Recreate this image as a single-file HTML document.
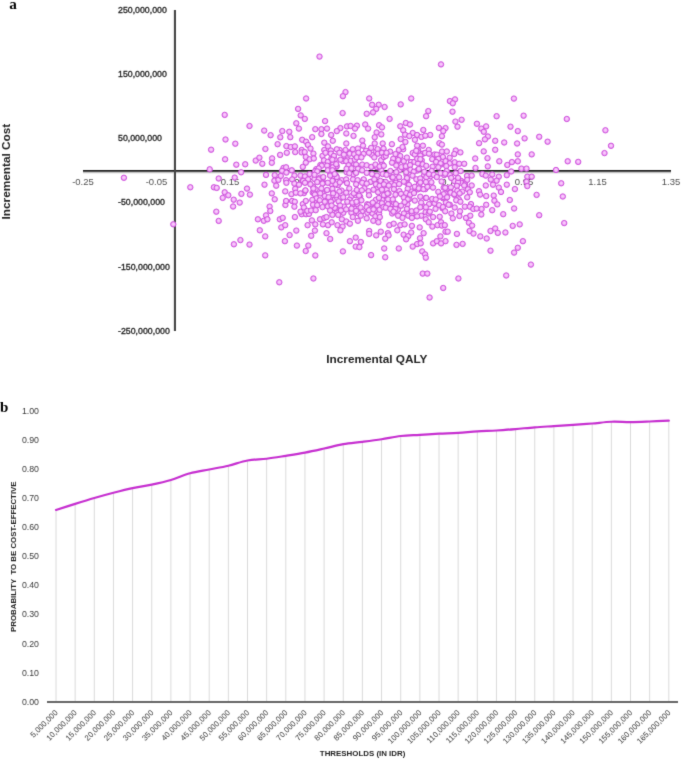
<!DOCTYPE html><html><head><meta charset="utf-8"><style>html,body{margin:0;padding:0;background:#fff;width:685px;height:759px;overflow:hidden}svg{display:block}</style></head><body>
<svg width="685" height="759" viewBox="0 0 685 759">
<defs><filter id="soft" filterUnits="userSpaceOnUse" x="0" y="0" width="685" height="759" color-interpolation-filters="sRGB"><feConvolveMatrix order="3" kernelMatrix="1 7 1 7 49 7 1 7 1" edgeMode="duplicate"/></filter></defs>
<g filter="url(#soft)">
<rect width="685" height="759" fill="#fff"/>
<text x="9.2" y="8.8" font-family="'Liberation Serif', 'Times New Roman', serif" font-weight="bold" font-size="15.2" fill="#000">a</text>
<text x="0" y="412" font-family="'Liberation Serif', 'Times New Roman', serif" font-weight="bold" font-size="15" fill="#000">b</text>
<text transform="translate(83.0,184.6) scale(1,1.04)" text-anchor="middle" font-family="'Liberation Sans', Arial, sans-serif" font-size="9.5" fill="#505050">-0.25</text>
<text transform="translate(156.5,184.6) scale(1,1.04)" text-anchor="middle" font-family="'Liberation Sans', Arial, sans-serif" font-size="9.5" fill="#505050">-0.05</text>
<text transform="translate(230.0,184.6) scale(1,1.04)" text-anchor="middle" font-family="'Liberation Sans', Arial, sans-serif" font-size="9.5" fill="#505050">0.15</text>
<text transform="translate(303.5,184.6) scale(1,1.04)" text-anchor="middle" font-family="'Liberation Sans', Arial, sans-serif" font-size="9.5" fill="#505050">0.35</text>
<text transform="translate(377.0,184.6) scale(1,1.04)" text-anchor="middle" font-family="'Liberation Sans', Arial, sans-serif" font-size="9.5" fill="#505050">0.55</text>
<text transform="translate(450.5,184.6) scale(1,1.04)" text-anchor="middle" font-family="'Liberation Sans', Arial, sans-serif" font-size="9.5" fill="#505050">0.75</text>
<text transform="translate(524.0,184.6) scale(1,1.04)" text-anchor="middle" font-family="'Liberation Sans', Arial, sans-serif" font-size="9.5" fill="#505050">0.95</text>
<text transform="translate(597.5,184.6) scale(1,1.04)" text-anchor="middle" font-family="'Liberation Sans', Arial, sans-serif" font-size="9.5" fill="#505050">1.15</text>
<text transform="translate(671.0,184.6) scale(1,1.04)" text-anchor="middle" font-family="'Liberation Sans', Arial, sans-serif" font-size="9.5" fill="#505050">1.35</text>
<text transform="translate(118,12.73) scale(1,1.12)" font-family="'Liberation Sans', Arial, sans-serif" font-size="8.8" fill="#222" stroke="#222" stroke-width="0.3">250,000,000</text>
<text transform="translate(118,76.98) scale(1,1.12)" font-family="'Liberation Sans', Arial, sans-serif" font-size="8.8" fill="#222" stroke="#222" stroke-width="0.3">150,000,000</text>
<text transform="translate(118,141.23) scale(1,1.12)" font-family="'Liberation Sans', Arial, sans-serif" font-size="8.8" fill="#222" stroke="#222" stroke-width="0.3">50,000,000</text>
<text transform="translate(118,205.48) scale(1,1.12)" font-family="'Liberation Sans', Arial, sans-serif" font-size="8.8" fill="#222" stroke="#222" stroke-width="0.3">-50,000,000</text>
<text transform="translate(118,269.73) scale(1,1.12)" font-family="'Liberation Sans', Arial, sans-serif" font-size="8.8" fill="#222" stroke="#222" stroke-width="0.3">-150,000,000</text>
<text transform="translate(118,333.98) scale(1,1.12)" font-family="'Liberation Sans', Arial, sans-serif" font-size="8.8" fill="#222" stroke="#222" stroke-width="0.3">-250,000,000</text>
<line x1="173.3" y1="10" x2="173.3" y2="331" stroke="#e4e4e4" stroke-width="1"/>
<line x1="83" y1="172.6" x2="671" y2="172.6" stroke="#c4c4c4" stroke-width="1.4"/>
<line x1="83" y1="170.9" x2="671" y2="170.9" stroke="#1c1c1c" stroke-width="1.8"/>
<line x1="175" y1="10" x2="175" y2="331" stroke="#454545" stroke-width="2"/>
<defs><radialGradient id="dg" cx="0.5" cy="0.45" r="0.5"><stop offset="0" stop-color="#fcd4fe"/><stop offset="0.5" stop-color="#f5bcf9"/><stop offset="1" stop-color="#e592ee"/></radialGradient></defs>
<g fill="url(#dg)" stroke="#cf52dd" stroke-width="1">
<circle cx="377.2" cy="187.6" r="2.7"/>
<circle cx="457.4" cy="180.8" r="2.7"/>
<circle cx="386.6" cy="189.6" r="2.7"/>
<circle cx="331.7" cy="184.2" r="2.7"/>
<circle cx="407.4" cy="204.4" r="2.7"/>
<circle cx="316.3" cy="169.1" r="2.7"/>
<circle cx="418.2" cy="150.3" r="2.7"/>
<circle cx="411.5" cy="191.6" r="2.7"/>
<circle cx="390.1" cy="151.6" r="2.7"/>
<circle cx="332.6" cy="164.7" r="2.7"/>
<circle cx="305.4" cy="180.7" r="2.7"/>
<circle cx="375.2" cy="208.0" r="2.7"/>
<circle cx="388.6" cy="193.4" r="2.7"/>
<circle cx="385.3" cy="195.0" r="2.7"/>
<circle cx="378.0" cy="167.3" r="2.7"/>
<circle cx="443.1" cy="198.3" r="2.7"/>
<circle cx="353.9" cy="163.8" r="2.7"/>
<circle cx="349.4" cy="152.4" r="2.7"/>
<circle cx="430.6" cy="176.1" r="2.7"/>
<circle cx="444.2" cy="175.1" r="2.7"/>
<circle cx="455.0" cy="181.1" r="2.7"/>
<circle cx="467.0" cy="175.9" r="2.7"/>
<circle cx="312.7" cy="192.6" r="2.7"/>
<circle cx="432.6" cy="166.7" r="2.7"/>
<circle cx="315.1" cy="171.2" r="2.7"/>
<circle cx="320.4" cy="165.0" r="2.7"/>
<circle cx="435.8" cy="160.1" r="2.7"/>
<circle cx="395.4" cy="179.5" r="2.7"/>
<circle cx="332.7" cy="200.0" r="2.7"/>
<circle cx="322.6" cy="193.6" r="2.7"/>
<circle cx="320.1" cy="177.6" r="2.7"/>
<circle cx="336.5" cy="166.7" r="2.7"/>
<circle cx="352.0" cy="211.0" r="2.7"/>
<circle cx="336.1" cy="175.7" r="2.7"/>
<circle cx="445.5" cy="193.5" r="2.7"/>
<circle cx="336.6" cy="165.9" r="2.7"/>
<circle cx="431.7" cy="171.0" r="2.7"/>
<circle cx="350.7" cy="152.6" r="2.7"/>
<circle cx="315.6" cy="189.3" r="2.7"/>
<circle cx="341.6" cy="190.6" r="2.7"/>
<circle cx="363.5" cy="179.9" r="2.7"/>
<circle cx="463.4" cy="182.1" r="2.7"/>
<circle cx="398.0" cy="209.7" r="2.7"/>
<circle cx="331.4" cy="158.4" r="2.7"/>
<circle cx="342.7" cy="161.0" r="2.7"/>
<circle cx="450.3" cy="190.8" r="2.7"/>
<circle cx="371.9" cy="154.8" r="2.7"/>
<circle cx="340.8" cy="198.0" r="2.7"/>
<circle cx="344.0" cy="206.6" r="2.7"/>
<circle cx="401.7" cy="168.4" r="2.7"/>
<circle cx="330.1" cy="199.2" r="2.7"/>
<circle cx="395.4" cy="208.7" r="2.7"/>
<circle cx="404.7" cy="167.5" r="2.7"/>
<circle cx="376.1" cy="151.7" r="2.7"/>
<circle cx="330.3" cy="173.9" r="2.7"/>
<circle cx="397.6" cy="156.8" r="2.7"/>
<circle cx="361.9" cy="211.4" r="2.7"/>
<circle cx="417.8" cy="189.4" r="2.7"/>
<circle cx="303.9" cy="193.1" r="2.7"/>
<circle cx="382.3" cy="199.9" r="2.7"/>
<circle cx="313.1" cy="186.6" r="2.7"/>
<circle cx="425.6" cy="212.1" r="2.7"/>
<circle cx="425.6" cy="198.0" r="2.7"/>
<circle cx="360.1" cy="196.6" r="2.7"/>
<circle cx="371.2" cy="204.2" r="2.7"/>
<circle cx="447.1" cy="188.5" r="2.7"/>
<circle cx="406.5" cy="174.8" r="2.7"/>
<circle cx="399.4" cy="191.1" r="2.7"/>
<circle cx="313.9" cy="193.3" r="2.7"/>
<circle cx="424.1" cy="175.3" r="2.7"/>
<circle cx="425.3" cy="189.1" r="2.7"/>
<circle cx="375.2" cy="207.7" r="2.7"/>
<circle cx="314.5" cy="201.3" r="2.7"/>
<circle cx="305.4" cy="190.6" r="2.7"/>
<circle cx="382.1" cy="163.9" r="2.7"/>
<circle cx="419.0" cy="183.1" r="2.7"/>
<circle cx="404.8" cy="213.6" r="2.7"/>
<circle cx="351.5" cy="196.1" r="2.7"/>
<circle cx="334.7" cy="159.5" r="2.7"/>
<circle cx="454.3" cy="194.8" r="2.7"/>
<circle cx="375.4" cy="211.5" r="2.7"/>
<circle cx="355.9" cy="195.2" r="2.7"/>
<circle cx="334.0" cy="178.3" r="2.7"/>
<circle cx="449.9" cy="175.0" r="2.7"/>
<circle cx="399.4" cy="170.1" r="2.7"/>
<circle cx="323.4" cy="183.0" r="2.7"/>
<circle cx="442.6" cy="208.4" r="2.7"/>
<circle cx="421.2" cy="215.7" r="2.7"/>
<circle cx="347.4" cy="159.5" r="2.7"/>
<circle cx="376.9" cy="167.1" r="2.7"/>
<circle cx="336.7" cy="177.1" r="2.7"/>
<circle cx="406.7" cy="182.9" r="2.7"/>
<circle cx="353.9" cy="207.7" r="2.7"/>
<circle cx="467.2" cy="179.9" r="2.7"/>
<circle cx="420.8" cy="188.4" r="2.7"/>
<circle cx="352.8" cy="204.3" r="2.7"/>
<circle cx="377.6" cy="149.1" r="2.7"/>
<circle cx="441.3" cy="164.4" r="2.7"/>
<circle cx="407.3" cy="179.4" r="2.7"/>
<circle cx="407.4" cy="194.5" r="2.7"/>
<circle cx="416.7" cy="161.7" r="2.7"/>
<circle cx="381.1" cy="160.2" r="2.7"/>
<circle cx="302.1" cy="181.3" r="2.7"/>
<circle cx="421.7" cy="160.2" r="2.7"/>
<circle cx="346.6" cy="172.2" r="2.7"/>
<circle cx="418.8" cy="184.8" r="2.7"/>
<circle cx="404.8" cy="201.7" r="2.7"/>
<circle cx="367.2" cy="204.3" r="2.7"/>
<circle cx="458.8" cy="199.3" r="2.7"/>
<circle cx="322.4" cy="180.0" r="2.7"/>
<circle cx="406.6" cy="212.8" r="2.7"/>
<circle cx="364.4" cy="188.3" r="2.7"/>
<circle cx="449.8" cy="204.7" r="2.7"/>
<circle cx="460.8" cy="180.7" r="2.7"/>
<circle cx="411.0" cy="162.1" r="2.7"/>
<circle cx="423.0" cy="206.2" r="2.7"/>
<circle cx="409.4" cy="199.0" r="2.7"/>
<circle cx="336.6" cy="212.1" r="2.7"/>
<circle cx="391.6" cy="204.2" r="2.7"/>
<circle cx="354.8" cy="212.8" r="2.7"/>
<circle cx="445.8" cy="172.4" r="2.7"/>
<circle cx="314.4" cy="179.0" r="2.7"/>
<circle cx="393.9" cy="202.6" r="2.7"/>
<circle cx="383.2" cy="149.3" r="2.7"/>
<circle cx="436.3" cy="159.7" r="2.7"/>
<circle cx="357.3" cy="204.0" r="2.7"/>
<circle cx="388.1" cy="199.4" r="2.7"/>
<circle cx="443.1" cy="196.9" r="2.7"/>
<circle cx="461.1" cy="182.8" r="2.7"/>
<circle cx="337.9" cy="185.2" r="2.7"/>
<circle cx="349.6" cy="199.8" r="2.7"/>
<circle cx="408.9" cy="184.9" r="2.7"/>
<circle cx="443.7" cy="187.6" r="2.7"/>
<circle cx="353.3" cy="174.7" r="2.7"/>
<circle cx="335.7" cy="208.6" r="2.7"/>
<circle cx="464.9" cy="185.0" r="2.7"/>
<circle cx="397.7" cy="161.8" r="2.7"/>
<circle cx="391.4" cy="183.5" r="2.7"/>
<circle cx="403.2" cy="149.3" r="2.7"/>
<circle cx="465.1" cy="184.5" r="2.7"/>
<circle cx="368.4" cy="205.0" r="2.7"/>
<circle cx="396.0" cy="182.7" r="2.7"/>
<circle cx="417.8" cy="152.0" r="2.7"/>
<circle cx="391.9" cy="177.1" r="2.7"/>
<circle cx="346.1" cy="181.4" r="2.7"/>
<circle cx="321.9" cy="178.5" r="2.7"/>
<circle cx="381.3" cy="170.1" r="2.7"/>
<circle cx="332.8" cy="191.8" r="2.7"/>
<circle cx="333.3" cy="163.7" r="2.7"/>
<circle cx="417.1" cy="170.5" r="2.7"/>
<circle cx="319.5" cy="56.6" r="2.7"/>
<circle cx="441.0" cy="64.4" r="2.7"/>
<circle cx="345.5" cy="92.1" r="2.7"/>
<circle cx="342.9" cy="96.2" r="2.7"/>
<circle cx="513.9" cy="98.6" r="2.7"/>
<circle cx="224.7" cy="114.9" r="2.7"/>
<circle cx="225.5" cy="139.5" r="2.7"/>
<circle cx="235.3" cy="143.7" r="2.7"/>
<circle cx="211.1" cy="149.7" r="2.7"/>
<circle cx="225.1" cy="159.3" r="2.7"/>
<circle cx="209.7" cy="169.3" r="2.7"/>
<circle cx="236.3" cy="164.7" r="2.7"/>
<circle cx="123.9" cy="177.8" r="2.7"/>
<circle cx="218.7" cy="178.5" r="2.7"/>
<circle cx="234.7" cy="177.6" r="2.7"/>
<circle cx="190.3" cy="187.3" r="2.7"/>
<circle cx="213.9" cy="187.3" r="2.7"/>
<circle cx="216.7" cy="187.9" r="2.7"/>
<circle cx="224.7" cy="192.3" r="2.7"/>
<circle cx="228.3" cy="195.3" r="2.7"/>
<circle cx="222.7" cy="197.9" r="2.7"/>
<circle cx="233.7" cy="199.7" r="2.7"/>
<circle cx="233.1" cy="206.5" r="2.7"/>
<circle cx="216.3" cy="211.7" r="2.7"/>
<circle cx="218.7" cy="220.9" r="2.7"/>
<circle cx="173.3" cy="224.3" r="2.7"/>
<circle cx="233.9" cy="244.3" r="2.7"/>
<circle cx="306.1" cy="98.5" r="2.7"/>
<circle cx="298.1" cy="108.9" r="2.7"/>
<circle cx="300.7" cy="115.4" r="2.7"/>
<circle cx="304.8" cy="118.9" r="2.7"/>
<circle cx="296.3" cy="123.3" r="2.7"/>
<circle cx="298.9" cy="128.6" r="2.7"/>
<circle cx="325.1" cy="121.1" r="2.7"/>
<circle cx="249.5" cy="126.0" r="2.7"/>
<circle cx="264.2" cy="130.6" r="2.7"/>
<circle cx="270.6" cy="135.2" r="2.7"/>
<circle cx="282.3" cy="131.1" r="2.7"/>
<circle cx="289.3" cy="131.8" r="2.7"/>
<circle cx="290.3" cy="137.2" r="2.7"/>
<circle cx="280.3" cy="137.3" r="2.7"/>
<circle cx="277.6" cy="144.2" r="2.7"/>
<circle cx="265.4" cy="149.0" r="2.7"/>
<circle cx="315.3" cy="129.2" r="2.7"/>
<circle cx="321.4" cy="129.2" r="2.7"/>
<circle cx="327.0" cy="128.6" r="2.7"/>
<circle cx="321.4" cy="134.0" r="2.7"/>
<circle cx="331.2" cy="135.0" r="2.7"/>
<circle cx="312.2" cy="137.2" r="2.7"/>
<circle cx="302.2" cy="139.8" r="2.7"/>
<circle cx="306.1" cy="141.7" r="2.7"/>
<circle cx="307.9" cy="144.9" r="2.7"/>
<circle cx="324.3" cy="142.7" r="2.7"/>
<circle cx="332.8" cy="140.8" r="2.7"/>
<circle cx="286.4" cy="146.1" r="2.7"/>
<circle cx="290.8" cy="147.1" r="2.7"/>
<circle cx="294.9" cy="146.4" r="2.7"/>
<circle cx="310.5" cy="148.6" r="2.7"/>
<circle cx="301.7" cy="150.0" r="2.7"/>
<circle cx="324.3" cy="150.0" r="2.7"/>
<circle cx="328.0" cy="146.4" r="2.7"/>
<circle cx="330.9" cy="150.5" r="2.7"/>
<circle cx="280.1" cy="154.9" r="2.7"/>
<circle cx="369.2" cy="98.5" r="2.7"/>
<circle cx="411.2" cy="98.5" r="2.7"/>
<circle cx="372.1" cy="104.8" r="2.7"/>
<circle cx="378.7" cy="104.8" r="2.7"/>
<circle cx="384.6" cy="107.0" r="2.7"/>
<circle cx="376.2" cy="108.9" r="2.7"/>
<circle cx="400.7" cy="104.4" r="2.7"/>
<circle cx="342.6" cy="113.1" r="2.7"/>
<circle cx="366.7" cy="113.8" r="2.7"/>
<circle cx="373.0" cy="112.4" r="2.7"/>
<circle cx="389.6" cy="118.9" r="2.7"/>
<circle cx="428.3" cy="111.1" r="2.7"/>
<circle cx="426.1" cy="116.2" r="2.7"/>
<circle cx="340.4" cy="128.1" r="2.7"/>
<circle cx="336.8" cy="131.1" r="2.7"/>
<circle cx="347.0" cy="126.4" r="2.7"/>
<circle cx="350.6" cy="126.0" r="2.7"/>
<circle cx="356.9" cy="125.7" r="2.7"/>
<circle cx="355.0" cy="128.6" r="2.7"/>
<circle cx="346.3" cy="133.5" r="2.7"/>
<circle cx="353.5" cy="135.9" r="2.7"/>
<circle cx="365.2" cy="124.5" r="2.7"/>
<circle cx="368.1" cy="128.6" r="2.7"/>
<circle cx="379.1" cy="125.2" r="2.7"/>
<circle cx="382.0" cy="127.4" r="2.7"/>
<circle cx="376.6" cy="132.5" r="2.7"/>
<circle cx="381.3" cy="134.4" r="2.7"/>
<circle cx="374.7" cy="137.3" r="2.7"/>
<circle cx="400.3" cy="126.3" r="2.7"/>
<circle cx="405.8" cy="123.0" r="2.7"/>
<circle cx="410.0" cy="124.5" r="2.7"/>
<circle cx="403.2" cy="130.3" r="2.7"/>
<circle cx="405.1" cy="134.7" r="2.7"/>
<circle cx="412.7" cy="133.0" r="2.7"/>
<circle cx="423.3" cy="130.0" r="2.7"/>
<circle cx="430.2" cy="135.0" r="2.7"/>
<circle cx="417.1" cy="135.0" r="2.7"/>
<circle cx="421.4" cy="136.9" r="2.7"/>
<circle cx="400.7" cy="139.1" r="2.7"/>
<circle cx="405.4" cy="142.0" r="2.7"/>
<circle cx="414.9" cy="139.8" r="2.7"/>
<circle cx="362.3" cy="140.6" r="2.7"/>
<circle cx="346.3" cy="143.5" r="2.7"/>
<circle cx="374.7" cy="143.5" r="2.7"/>
<circle cx="382.7" cy="143.5" r="2.7"/>
<circle cx="391.9" cy="144.2" r="2.7"/>
<circle cx="339.7" cy="150.0" r="2.7"/>
<circle cx="345.5" cy="150.0" r="2.7"/>
<circle cx="352.8" cy="149.3" r="2.7"/>
<circle cx="357.9" cy="148.6" r="2.7"/>
<circle cx="363.0" cy="145.7" r="2.7"/>
<circle cx="366.0" cy="150.8" r="2.7"/>
<circle cx="371.1" cy="147.9" r="2.7"/>
<circle cx="383.5" cy="148.6" r="2.7"/>
<circle cx="398.8" cy="150.0" r="2.7"/>
<circle cx="402.5" cy="147.1" r="2.7"/>
<circle cx="417.1" cy="145.7" r="2.7"/>
<circle cx="422.9" cy="145.7" r="2.7"/>
<circle cx="428.7" cy="150.0" r="2.7"/>
<circle cx="422.9" cy="153.7" r="2.7"/>
<circle cx="412.7" cy="153.0" r="2.7"/>
<circle cx="377.9" cy="153.7" r="2.7"/>
<circle cx="395.5" cy="154.1" r="2.7"/>
<circle cx="363.6" cy="153.9" r="2.7"/>
<circle cx="349.6" cy="153.7" r="2.7"/>
<circle cx="336.8" cy="149.3" r="2.7"/>
<circle cx="449.9" cy="101.1" r="2.7"/>
<circle cx="455.0" cy="99.4" r="2.7"/>
<circle cx="452.8" cy="103.3" r="2.7"/>
<circle cx="452.5" cy="111.7" r="2.7"/>
<circle cx="496.6" cy="116.2" r="2.7"/>
<circle cx="523.6" cy="115.7" r="2.7"/>
<circle cx="455.4" cy="121.6" r="2.7"/>
<circle cx="461.6" cy="119.8" r="2.7"/>
<circle cx="457.5" cy="126.7" r="2.7"/>
<circle cx="438.9" cy="127.9" r="2.7"/>
<circle cx="445.5" cy="128.1" r="2.7"/>
<circle cx="443.3" cy="131.1" r="2.7"/>
<circle cx="441.9" cy="136.2" r="2.7"/>
<circle cx="476.9" cy="123.8" r="2.7"/>
<circle cx="481.3" cy="128.6" r="2.7"/>
<circle cx="486.1" cy="126.4" r="2.7"/>
<circle cx="483.8" cy="131.8" r="2.7"/>
<circle cx="487.9" cy="136.5" r="2.7"/>
<circle cx="484.9" cy="139.4" r="2.7"/>
<circle cx="479.1" cy="143.2" r="2.7"/>
<circle cx="495.2" cy="140.8" r="2.7"/>
<circle cx="504.2" cy="142.5" r="2.7"/>
<circle cx="510.5" cy="126.7" r="2.7"/>
<circle cx="517.8" cy="131.1" r="2.7"/>
<circle cx="524.6" cy="138.4" r="2.7"/>
<circle cx="517.1" cy="143.5" r="2.7"/>
<circle cx="439.4" cy="143.2" r="2.7"/>
<circle cx="441.9" cy="144.6" r="2.7"/>
<circle cx="483.7" cy="151.4" r="2.7"/>
<circle cx="495.2" cy="149.8" r="2.7"/>
<circle cx="442.0" cy="151.6" r="2.7"/>
<circle cx="446.8" cy="151.5" r="2.7"/>
<circle cx="455.7" cy="150.5" r="2.7"/>
<circle cx="517.8" cy="154.4" r="2.7"/>
<circle cx="531.7" cy="154.4" r="2.7"/>
<circle cx="566.8" cy="119.0" r="2.7"/>
<circle cx="605.4" cy="130.3" r="2.7"/>
<circle cx="539.2" cy="136.8" r="2.7"/>
<circle cx="547.6" cy="141.7" r="2.7"/>
<circle cx="611.0" cy="145.8" r="2.7"/>
<circle cx="604.5" cy="153.1" r="2.7"/>
<circle cx="567.7" cy="161.3" r="2.7"/>
<circle cx="578.2" cy="161.9" r="2.7"/>
<circle cx="245.2" cy="164.3" r="2.7"/>
<circle cx="241.1" cy="172.3" r="2.7"/>
<circle cx="255.7" cy="160.6" r="2.7"/>
<circle cx="259.4" cy="157.7" r="2.7"/>
<circle cx="262.3" cy="163.8" r="2.7"/>
<circle cx="272.1" cy="158.4" r="2.7"/>
<circle cx="271.8" cy="162.8" r="2.7"/>
<circle cx="266.0" cy="174.9" r="2.7"/>
<circle cx="264.5" cy="184.7" r="2.7"/>
<circle cx="247.0" cy="188.6" r="2.7"/>
<circle cx="241.4" cy="193.9" r="2.7"/>
<circle cx="249.9" cy="194.6" r="2.7"/>
<circle cx="239.7" cy="202.6" r="2.7"/>
<circle cx="274.7" cy="175.2" r="2.7"/>
<circle cx="274.4" cy="180.7" r="2.7"/>
<circle cx="278.4" cy="179.9" r="2.7"/>
<circle cx="276.2" cy="185.7" r="2.7"/>
<circle cx="283.5" cy="167.9" r="2.7"/>
<circle cx="282.0" cy="170.8" r="2.7"/>
<circle cx="280.8" cy="175.9" r="2.7"/>
<circle cx="271.8" cy="193.4" r="2.7"/>
<circle cx="274.7" cy="199.3" r="2.7"/>
<circle cx="269.6" cy="206.6" r="2.7"/>
<circle cx="270.3" cy="211.0" r="2.7"/>
<circle cx="285.2" cy="191.4" r="2.7"/>
<circle cx="285.4" cy="205.0" r="2.7"/>
<circle cx="487.5" cy="158.2" r="2.7"/>
<circle cx="499.3" cy="161.3" r="2.7"/>
<circle cx="487.8" cy="166.4" r="2.7"/>
<circle cx="507.3" cy="165.0" r="2.7"/>
<circle cx="511.9" cy="162.1" r="2.7"/>
<circle cx="517.8" cy="161.3" r="2.7"/>
<circle cx="521.4" cy="168.6" r="2.7"/>
<circle cx="526.5" cy="168.6" r="2.7"/>
<circle cx="511.2" cy="171.5" r="2.7"/>
<circle cx="506.8" cy="175.2" r="2.7"/>
<circle cx="492.2" cy="174.5" r="2.7"/>
<circle cx="498.8" cy="176.7" r="2.7"/>
<circle cx="490.8" cy="179.6" r="2.7"/>
<circle cx="496.6" cy="180.7" r="2.7"/>
<circle cx="527.3" cy="176.7" r="2.7"/>
<circle cx="531.7" cy="176.7" r="2.7"/>
<circle cx="526.5" cy="181.8" r="2.7"/>
<circle cx="527.3" cy="186.1" r="2.7"/>
<circle cx="506.8" cy="184.7" r="2.7"/>
<circle cx="514.9" cy="189.1" r="2.7"/>
<circle cx="493.0" cy="184.7" r="2.7"/>
<circle cx="498.8" cy="187.6" r="2.7"/>
<circle cx="501.0" cy="192.0" r="2.7"/>
<circle cx="493.7" cy="195.6" r="2.7"/>
<circle cx="494.4" cy="200.7" r="2.7"/>
<circle cx="497.3" cy="204.4" r="2.7"/>
<circle cx="509.8" cy="200.0" r="2.7"/>
<circle cx="514.1" cy="208.5" r="2.7"/>
<circle cx="536.6" cy="194.9" r="2.7"/>
<circle cx="492.2" cy="210.2" r="2.7"/>
<circle cx="556.0" cy="170.0" r="2.7"/>
<circle cx="561.2" cy="183.3" r="2.7"/>
<circle cx="562.8" cy="196.5" r="2.7"/>
<circle cx="539.2" cy="215.2" r="2.7"/>
<circle cx="564.2" cy="223.1" r="2.7"/>
<circle cx="266.0" cy="215.4" r="2.7"/>
<circle cx="257.9" cy="219.3" r="2.7"/>
<circle cx="263.8" cy="220.8" r="2.7"/>
<circle cx="267.4" cy="219.3" r="2.7"/>
<circle cx="279.8" cy="219.3" r="2.7"/>
<circle cx="282.7" cy="217.9" r="2.7"/>
<circle cx="281.3" cy="227.4" r="2.7"/>
<circle cx="285.2" cy="225.2" r="2.7"/>
<circle cx="294.9" cy="217.1" r="2.7"/>
<circle cx="259.8" cy="230.3" r="2.7"/>
<circle cx="265.2" cy="236.4" r="2.7"/>
<circle cx="240.4" cy="240.1" r="2.7"/>
<circle cx="249.5" cy="244.6" r="2.7"/>
<circle cx="265.2" cy="255.4" r="2.7"/>
<circle cx="289.6" cy="235.1" r="2.7"/>
<circle cx="296.3" cy="230.6" r="2.7"/>
<circle cx="284.9" cy="241.2" r="2.7"/>
<circle cx="296.9" cy="245.6" r="2.7"/>
<circle cx="301.7" cy="214.2" r="2.7"/>
<circle cx="306.1" cy="214.2" r="2.7"/>
<circle cx="309.0" cy="213.9" r="2.7"/>
<circle cx="307.6" cy="225.2" r="2.7"/>
<circle cx="311.9" cy="220.4" r="2.7"/>
<circle cx="315.3" cy="224.4" r="2.7"/>
<circle cx="314.9" cy="230.6" r="2.7"/>
<circle cx="311.2" cy="235.8" r="2.7"/>
<circle cx="320.0" cy="219.3" r="2.7"/>
<circle cx="324.3" cy="217.9" r="2.7"/>
<circle cx="326.5" cy="217.1" r="2.7"/>
<circle cx="322.9" cy="224.4" r="2.7"/>
<circle cx="328.0" cy="225.2" r="2.7"/>
<circle cx="331.7" cy="222.3" r="2.7"/>
<circle cx="332.4" cy="214.9" r="2.7"/>
<circle cx="326.5" cy="233.2" r="2.7"/>
<circle cx="330.2" cy="239.0" r="2.7"/>
<circle cx="308.3" cy="245.6" r="2.7"/>
<circle cx="305.7" cy="251.0" r="2.7"/>
<circle cx="315.3" cy="255.5" r="2.7"/>
<circle cx="338.2" cy="214.9" r="2.7"/>
<circle cx="343.3" cy="212.8" r="2.7"/>
<circle cx="351.4" cy="212.8" r="2.7"/>
<circle cx="352.8" cy="217.1" r="2.7"/>
<circle cx="358.7" cy="213.5" r="2.7"/>
<circle cx="360.8" cy="215.7" r="2.7"/>
<circle cx="367.4" cy="212.8" r="2.7"/>
<circle cx="366.7" cy="218.3" r="2.7"/>
<circle cx="372.5" cy="213.5" r="2.7"/>
<circle cx="375.4" cy="216.4" r="2.7"/>
<circle cx="379.1" cy="213.5" r="2.7"/>
<circle cx="379.8" cy="217.1" r="2.7"/>
<circle cx="373.3" cy="220.8" r="2.7"/>
<circle cx="378.4" cy="222.3" r="2.7"/>
<circle cx="357.9" cy="220.8" r="2.7"/>
<circle cx="341.9" cy="219.3" r="2.7"/>
<circle cx="346.3" cy="221.5" r="2.7"/>
<circle cx="349.9" cy="223.7" r="2.7"/>
<circle cx="337.5" cy="225.2" r="2.7"/>
<circle cx="342.6" cy="226.6" r="2.7"/>
<circle cx="340.4" cy="230.3" r="2.7"/>
<circle cx="392.2" cy="213.5" r="2.7"/>
<circle cx="398.1" cy="215.7" r="2.7"/>
<circle cx="403.9" cy="213.5" r="2.7"/>
<circle cx="408.3" cy="215.7" r="2.7"/>
<circle cx="411.9" cy="213.5" r="2.7"/>
<circle cx="417.1" cy="216.4" r="2.7"/>
<circle cx="402.5" cy="217.9" r="2.7"/>
<circle cx="411.9" cy="217.9" r="2.7"/>
<circle cx="428.7" cy="213.5" r="2.7"/>
<circle cx="433.1" cy="217.1" r="2.7"/>
<circle cx="425.8" cy="219.3" r="2.7"/>
<circle cx="428.7" cy="222.3" r="2.7"/>
<circle cx="432.4" cy="226.6" r="2.7"/>
<circle cx="389.3" cy="225.2" r="2.7"/>
<circle cx="393.7" cy="223.7" r="2.7"/>
<circle cx="400.3" cy="225.2" r="2.7"/>
<circle cx="404.6" cy="224.4" r="2.7"/>
<circle cx="411.9" cy="225.9" r="2.7"/>
<circle cx="419.7" cy="227.4" r="2.7"/>
<circle cx="397.3" cy="230.3" r="2.7"/>
<circle cx="369.2" cy="231.0" r="2.7"/>
<circle cx="369.2" cy="233.9" r="2.7"/>
<circle cx="376.2" cy="235.4" r="2.7"/>
<circle cx="380.8" cy="231.7" r="2.7"/>
<circle cx="387.9" cy="233.2" r="2.7"/>
<circle cx="388.6" cy="235.4" r="2.7"/>
<circle cx="385.2" cy="238.7" r="2.7"/>
<circle cx="403.6" cy="234.7" r="2.7"/>
<circle cx="408.3" cy="236.1" r="2.7"/>
<circle cx="411.2" cy="232.5" r="2.7"/>
<circle cx="406.1" cy="239.3" r="2.7"/>
<circle cx="423.6" cy="233.2" r="2.7"/>
<circle cx="420.0" cy="238.3" r="2.7"/>
<circle cx="417.1" cy="244.1" r="2.7"/>
<circle cx="420.7" cy="243.4" r="2.7"/>
<circle cx="412.7" cy="246.6" r="2.7"/>
<circle cx="433.1" cy="243.4" r="2.7"/>
<circle cx="355.7" cy="237.6" r="2.7"/>
<circle cx="349.9" cy="241.2" r="2.7"/>
<circle cx="360.8" cy="242.0" r="2.7"/>
<circle cx="355.7" cy="246.6" r="2.7"/>
<circle cx="359.4" cy="247.1" r="2.7"/>
<circle cx="342.9" cy="251.4" r="2.7"/>
<circle cx="371.1" cy="255.1" r="2.7"/>
<circle cx="384.2" cy="248.5" r="2.7"/>
<circle cx="398.8" cy="248.5" r="2.7"/>
<circle cx="385.2" cy="257.3" r="2.7"/>
<circle cx="422.2" cy="251.4" r="2.7"/>
<circle cx="425.1" cy="254.4" r="2.7"/>
<circle cx="425.8" cy="257.7" r="2.7"/>
<circle cx="422.7" cy="273.6" r="2.7"/>
<circle cx="427.3" cy="273.6" r="2.7"/>
<circle cx="439.7" cy="216.8" r="2.7"/>
<circle cx="451.4" cy="213.5" r="2.7"/>
<circle cx="452.8" cy="218.3" r="2.7"/>
<circle cx="459.4" cy="216.0" r="2.7"/>
<circle cx="466.0" cy="217.9" r="2.7"/>
<circle cx="470.3" cy="215.7" r="2.7"/>
<circle cx="468.9" cy="222.7" r="2.7"/>
<circle cx="472.1" cy="225.6" r="2.7"/>
<circle cx="437.5" cy="225.2" r="2.7"/>
<circle cx="441.1" cy="222.3" r="2.7"/>
<circle cx="441.9" cy="225.6" r="2.7"/>
<circle cx="444.8" cy="225.2" r="2.7"/>
<circle cx="445.5" cy="231.7" r="2.7"/>
<circle cx="447.7" cy="231.7" r="2.7"/>
<circle cx="456.9" cy="233.9" r="2.7"/>
<circle cx="469.6" cy="231.0" r="2.7"/>
<circle cx="473.5" cy="233.6" r="2.7"/>
<circle cx="440.4" cy="236.4" r="2.7"/>
<circle cx="436.8" cy="241.2" r="2.7"/>
<circle cx="441.1" cy="243.4" r="2.7"/>
<circle cx="445.5" cy="241.2" r="2.7"/>
<circle cx="456.5" cy="244.9" r="2.7"/>
<circle cx="462.6" cy="243.9" r="2.7"/>
<circle cx="481.3" cy="214.5" r="2.7"/>
<circle cx="503.2" cy="214.2" r="2.7"/>
<circle cx="480.3" cy="236.4" r="2.7"/>
<circle cx="486.7" cy="238.5" r="2.7"/>
<circle cx="490.5" cy="231.0" r="2.7"/>
<circle cx="495.2" cy="228.5" r="2.7"/>
<circle cx="497.8" cy="232.9" r="2.7"/>
<circle cx="505.4" cy="232.5" r="2.7"/>
<circle cx="512.7" cy="225.9" r="2.7"/>
<circle cx="519.7" cy="224.4" r="2.7"/>
<circle cx="522.9" cy="241.2" r="2.7"/>
<circle cx="517.8" cy="247.8" r="2.7"/>
<circle cx="514.1" cy="252.6" r="2.7"/>
<circle cx="490.5" cy="250.7" r="2.7"/>
<circle cx="530.9" cy="264.6" r="2.7"/>
<circle cx="279.3" cy="282.3" r="2.7"/>
<circle cx="313.4" cy="278.5" r="2.7"/>
<circle cx="443.2" cy="288.0" r="2.7"/>
<circle cx="429.6" cy="297.5" r="2.7"/>
<circle cx="458.4" cy="278.5" r="2.7"/>
<circle cx="506.2" cy="275.5" r="2.7"/>
<circle cx="339.4" cy="152.8" r="2.7"/>
<circle cx="343.9" cy="154.7" r="2.7"/>
<circle cx="354.2" cy="154.3" r="2.7"/>
<circle cx="358.4" cy="152.8" r="2.7"/>
<circle cx="369.0" cy="152.8" r="2.7"/>
<circle cx="374.3" cy="157.4" r="2.7"/>
<circle cx="381.9" cy="152.8" r="2.7"/>
<circle cx="383.8" cy="157.0" r="2.7"/>
<circle cx="340.5" cy="159.7" r="2.7"/>
<circle cx="346.2" cy="161.2" r="2.7"/>
<circle cx="350.8" cy="160.8" r="2.7"/>
<circle cx="354.9" cy="159.7" r="2.7"/>
<circle cx="356.8" cy="157.4" r="2.7"/>
<circle cx="361.4" cy="157.4" r="2.7"/>
<circle cx="362.2" cy="164.6" r="2.7"/>
<circle cx="356.1" cy="164.6" r="2.7"/>
<circle cx="348.5" cy="165.3" r="2.7"/>
<circle cx="346.6" cy="168.8" r="2.7"/>
<circle cx="351.5" cy="168.4" r="2.7"/>
<circle cx="358.0" cy="168.8" r="2.7"/>
<circle cx="366.7" cy="165.3" r="2.7"/>
<circle cx="371.3" cy="166.9" r="2.7"/>
<circle cx="375.4" cy="164.6" r="2.7"/>
<circle cx="379.6" cy="166.5" r="2.7"/>
<circle cx="383.8" cy="165.8" r="2.7"/>
<circle cx="349.3" cy="173.3" r="2.7"/>
<circle cx="356.1" cy="172.9" r="2.7"/>
<circle cx="362.2" cy="170.3" r="2.7"/>
<circle cx="366.7" cy="172.9" r="2.7"/>
<circle cx="372.0" cy="174.1" r="2.7"/>
<circle cx="377.0" cy="175.6" r="2.7"/>
<circle cx="382.7" cy="174.1" r="2.7"/>
<circle cx="341.7" cy="180.2" r="2.7"/>
<circle cx="346.2" cy="179.4" r="2.7"/>
<circle cx="353.0" cy="179.4" r="2.7"/>
<circle cx="357.6" cy="180.2" r="2.7"/>
<circle cx="363.7" cy="179.4" r="2.7"/>
<circle cx="370.5" cy="181.9" r="2.7"/>
<circle cx="374.3" cy="179.4" r="2.7"/>
<circle cx="380.4" cy="180.9" r="2.7"/>
<circle cx="385.7" cy="156.0" r="2.7"/>
<circle cx="386.5" cy="152.9" r="2.7"/>
<circle cx="400.3" cy="156.0" r="2.7"/>
<circle cx="393.2" cy="158.8" r="2.7"/>
<circle cx="392.0" cy="162.7" r="2.7"/>
<circle cx="398.3" cy="160.0" r="2.7"/>
<circle cx="403.8" cy="161.2" r="2.7"/>
<circle cx="406.9" cy="157.6" r="2.7"/>
<circle cx="396.3" cy="165.5" r="2.7"/>
<circle cx="401.4" cy="167.1" r="2.7"/>
<circle cx="405.8" cy="166.3" r="2.7"/>
<circle cx="410.1" cy="165.1" r="2.7"/>
<circle cx="414.4" cy="161.9" r="2.7"/>
<circle cx="418.0" cy="163.5" r="2.7"/>
<circle cx="422.7" cy="164.3" r="2.7"/>
<circle cx="426.3" cy="165.9" r="2.7"/>
<circle cx="414.8" cy="154.5" r="2.7"/>
<circle cx="420.3" cy="155.6" r="2.7"/>
<circle cx="417.2" cy="158.8" r="2.7"/>
<circle cx="420.3" cy="159.2" r="2.7"/>
<circle cx="425.1" cy="152.9" r="2.7"/>
<circle cx="429.0" cy="153.7" r="2.7"/>
<circle cx="434.5" cy="154.5" r="2.7"/>
<circle cx="432.2" cy="159.2" r="2.7"/>
<circle cx="390.4" cy="171.0" r="2.7"/>
<circle cx="396.3" cy="172.2" r="2.7"/>
<circle cx="386.5" cy="174.9" r="2.7"/>
<circle cx="392.8" cy="177.3" r="2.7"/>
<circle cx="399.1" cy="177.3" r="2.7"/>
<circle cx="406.2" cy="172.2" r="2.7"/>
<circle cx="410.5" cy="169.8" r="2.7"/>
<circle cx="413.7" cy="171.8" r="2.7"/>
<circle cx="418.8" cy="169.0" r="2.7"/>
<circle cx="424.3" cy="171.8" r="2.7"/>
<circle cx="406.9" cy="178.1" r="2.7"/>
<circle cx="412.5" cy="175.7" r="2.7"/>
<circle cx="416.4" cy="179.3" r="2.7"/>
<circle cx="420.3" cy="178.5" r="2.7"/>
<circle cx="426.3" cy="177.3" r="2.7"/>
<circle cx="429.0" cy="174.2" r="2.7"/>
<circle cx="433.8" cy="174.9" r="2.7"/>
<circle cx="403.8" cy="181.7" r="2.7"/>
<circle cx="385.7" cy="182.0" r="2.7"/>
<circle cx="431.4" cy="182.3" r="2.7"/>
<circle cx="335.6" cy="184.3" r="2.7"/>
<circle cx="339.8" cy="182.4" r="2.7"/>
<circle cx="347.0" cy="183.2" r="2.7"/>
<circle cx="356.1" cy="184.3" r="2.7"/>
<circle cx="362.2" cy="182.8" r="2.7"/>
<circle cx="366.7" cy="183.6" r="2.7"/>
<circle cx="375.8" cy="184.3" r="2.7"/>
<circle cx="379.6" cy="185.9" r="2.7"/>
<circle cx="383.9" cy="184.4" r="2.7"/>
<circle cx="339.4" cy="191.6" r="2.7"/>
<circle cx="349.3" cy="188.5" r="2.7"/>
<circle cx="346.2" cy="192.7" r="2.7"/>
<circle cx="353.8" cy="193.4" r="2.7"/>
<circle cx="356.8" cy="190.0" r="2.7"/>
<circle cx="361.8" cy="190.4" r="2.7"/>
<circle cx="359.1" cy="195.7" r="2.7"/>
<circle cx="368.6" cy="191.2" r="2.7"/>
<circle cx="369.0" cy="195.3" r="2.7"/>
<circle cx="373.5" cy="189.7" r="2.7"/>
<circle cx="378.1" cy="192.3" r="2.7"/>
<circle cx="381.9" cy="189.7" r="2.7"/>
<circle cx="383.9" cy="195.2" r="2.7"/>
<circle cx="336.3" cy="195.3" r="2.7"/>
<circle cx="338.6" cy="201.4" r="2.7"/>
<circle cx="343.2" cy="197.3" r="2.7"/>
<circle cx="347.3" cy="201.8" r="2.7"/>
<circle cx="352.3" cy="202.6" r="2.7"/>
<circle cx="361.4" cy="200.3" r="2.7"/>
<circle cx="356.5" cy="201.8" r="2.7"/>
<circle cx="375.8" cy="199.9" r="2.7"/>
<circle cx="378.9" cy="198.0" r="2.7"/>
<circle cx="372.8" cy="202.6" r="2.7"/>
<circle cx="381.9" cy="203.3" r="2.7"/>
<circle cx="377.3" cy="205.6" r="2.7"/>
<circle cx="334.8" cy="207.9" r="2.7"/>
<circle cx="340.1" cy="205.6" r="2.7"/>
<circle cx="340.9" cy="210.5" r="2.7"/>
<circle cx="346.2" cy="209.4" r="2.7"/>
<circle cx="351.5" cy="208.6" r="2.7"/>
<circle cx="356.1" cy="210.9" r="2.7"/>
<circle cx="360.6" cy="207.5" r="2.7"/>
<circle cx="366.7" cy="207.1" r="2.7"/>
<circle cx="369.0" cy="210.2" r="2.7"/>
<circle cx="373.5" cy="209.4" r="2.7"/>
<circle cx="379.6" cy="209.8" r="2.7"/>
<circle cx="383.4" cy="207.1" r="2.7"/>
<circle cx="388.8" cy="185.6" r="2.7"/>
<circle cx="394.3" cy="185.2" r="2.7"/>
<circle cx="399.1" cy="184.1" r="2.7"/>
<circle cx="393.9" cy="189.2" r="2.7"/>
<circle cx="407.7" cy="188.8" r="2.7"/>
<circle cx="414.8" cy="186.8" r="2.7"/>
<circle cx="418.8" cy="188.4" r="2.7"/>
<circle cx="423.5" cy="189.2" r="2.7"/>
<circle cx="427.4" cy="186.8" r="2.7"/>
<circle cx="433.0" cy="187.6" r="2.7"/>
<circle cx="425.9" cy="182.1" r="2.7"/>
<circle cx="420.3" cy="182.5" r="2.7"/>
<circle cx="387.6" cy="193.5" r="2.7"/>
<circle cx="395.5" cy="194.7" r="2.7"/>
<circle cx="401.0" cy="193.9" r="2.7"/>
<circle cx="406.2" cy="193.1" r="2.7"/>
<circle cx="410.1" cy="194.7" r="2.7"/>
<circle cx="414.0" cy="193.1" r="2.7"/>
<circle cx="420.3" cy="196.7" r="2.7"/>
<circle cx="426.3" cy="197.9" r="2.7"/>
<circle cx="432.2" cy="199.0" r="2.7"/>
<circle cx="392.8" cy="199.4" r="2.7"/>
<circle cx="403.8" cy="197.5" r="2.7"/>
<circle cx="407.7" cy="199.4" r="2.7"/>
<circle cx="414.8" cy="200.6" r="2.7"/>
<circle cx="421.1" cy="202.6" r="2.7"/>
<circle cx="429.0" cy="204.2" r="2.7"/>
<circle cx="388.0" cy="204.2" r="2.7"/>
<circle cx="395.9" cy="204.2" r="2.7"/>
<circle cx="404.6" cy="202.2" r="2.7"/>
<circle cx="401.0" cy="205.7" r="2.7"/>
<circle cx="385.7" cy="207.7" r="2.7"/>
<circle cx="390.4" cy="208.9" r="2.7"/>
<circle cx="393.5" cy="211.7" r="2.7"/>
<circle cx="406.9" cy="208.9" r="2.7"/>
<circle cx="411.7" cy="211.3" r="2.7"/>
<circle cx="416.4" cy="210.5" r="2.7"/>
<circle cx="420.3" cy="207.3" r="2.7"/>
<circle cx="425.9" cy="207.3" r="2.7"/>
<circle cx="429.8" cy="211.7" r="2.7"/>
<circle cx="435.5" cy="208.9" r="2.7"/>
<circle cx="434.5" cy="203.4" r="2.7"/>
<circle cx="286.8" cy="152.8" r="2.7"/>
<circle cx="295.2" cy="152.1" r="2.7"/>
<circle cx="301.6" cy="152.4" r="2.7"/>
<circle cx="304.7" cy="152.1" r="2.7"/>
<circle cx="313.4" cy="153.6" r="2.7"/>
<circle cx="305.8" cy="157.0" r="2.7"/>
<circle cx="309.6" cy="159.3" r="2.7"/>
<circle cx="313.8" cy="158.5" r="2.7"/>
<circle cx="305.8" cy="162.7" r="2.7"/>
<circle cx="302.8" cy="166.9" r="2.7"/>
<circle cx="322.5" cy="155.9" r="2.7"/>
<circle cx="325.5" cy="152.8" r="2.7"/>
<circle cx="330.9" cy="153.6" r="2.7"/>
<circle cx="333.9" cy="155.9" r="2.7"/>
<circle cx="324.0" cy="160.4" r="2.7"/>
<circle cx="327.8" cy="161.9" r="2.7"/>
<circle cx="332.4" cy="159.7" r="2.7"/>
<circle cx="321.7" cy="165.7" r="2.7"/>
<circle cx="327.1" cy="165.7" r="2.7"/>
<circle cx="332.8" cy="167.3" r="2.7"/>
<circle cx="336.2" cy="164.2" r="2.7"/>
<circle cx="318.7" cy="168.4" r="2.7"/>
<circle cx="317.2" cy="171.4" r="2.7"/>
<circle cx="327.8" cy="170.3" r="2.7"/>
<circle cx="332.4" cy="170.3" r="2.7"/>
<circle cx="291.8" cy="170.3" r="2.7"/>
<circle cx="286.1" cy="167.3" r="2.7"/>
<circle cx="286.4" cy="172.6" r="2.7"/>
<circle cx="294.4" cy="175.6" r="2.7"/>
<circle cx="300.5" cy="175.6" r="2.7"/>
<circle cx="305.0" cy="176.4" r="2.7"/>
<circle cx="309.6" cy="174.1" r="2.7"/>
<circle cx="314.5" cy="174.8" r="2.7"/>
<circle cx="292.1" cy="179.4" r="2.7"/>
<circle cx="308.1" cy="179.4" r="2.7"/>
<circle cx="318.7" cy="179.4" r="2.7"/>
<circle cx="323.3" cy="177.1" r="2.7"/>
<circle cx="330.1" cy="175.6" r="2.7"/>
<circle cx="334.7" cy="174.1" r="2.7"/>
<circle cx="332.4" cy="180.9" r="2.7"/>
<circle cx="286.1" cy="180.2" r="2.7"/>
<circle cx="303.1" cy="180.9" r="2.7"/>
<circle cx="286.4" cy="182.8" r="2.7"/>
<circle cx="294.4" cy="183.6" r="2.7"/>
<circle cx="299.0" cy="184.7" r="2.7"/>
<circle cx="305.0" cy="182.8" r="2.7"/>
<circle cx="310.4" cy="184.3" r="2.7"/>
<circle cx="317.2" cy="182.1" r="2.7"/>
<circle cx="322.5" cy="183.6" r="2.7"/>
<circle cx="327.8" cy="182.8" r="2.7"/>
<circle cx="295.2" cy="188.9" r="2.7"/>
<circle cx="305.4" cy="190.4" r="2.7"/>
<circle cx="313.4" cy="188.5" r="2.7"/>
<circle cx="321.4" cy="188.5" r="2.7"/>
<circle cx="327.1" cy="190.0" r="2.7"/>
<circle cx="332.4" cy="188.9" r="2.7"/>
<circle cx="291.4" cy="194.2" r="2.7"/>
<circle cx="295.9" cy="192.7" r="2.7"/>
<circle cx="300.5" cy="193.4" r="2.7"/>
<circle cx="314.9" cy="194.6" r="2.7"/>
<circle cx="320.2" cy="193.4" r="2.7"/>
<circle cx="324.8" cy="196.1" r="2.7"/>
<circle cx="328.6" cy="197.3" r="2.7"/>
<circle cx="333.1" cy="193.4" r="2.7"/>
<circle cx="316.4" cy="198.4" r="2.7"/>
<circle cx="312.3" cy="199.9" r="2.7"/>
<circle cx="319.8" cy="200.3" r="2.7"/>
<circle cx="324.8" cy="201.8" r="2.7"/>
<circle cx="330.9" cy="201.8" r="2.7"/>
<circle cx="286.1" cy="201.0" r="2.7"/>
<circle cx="292.1" cy="201.0" r="2.7"/>
<circle cx="294.8" cy="201.8" r="2.7"/>
<circle cx="302.8" cy="204.1" r="2.7"/>
<circle cx="305.8" cy="201.0" r="2.7"/>
<circle cx="294.4" cy="206.7" r="2.7"/>
<circle cx="303.9" cy="207.5" r="2.7"/>
<circle cx="313.0" cy="204.8" r="2.7"/>
<circle cx="317.2" cy="205.2" r="2.7"/>
<circle cx="322.5" cy="207.1" r="2.7"/>
<circle cx="327.8" cy="206.4" r="2.7"/>
<circle cx="331.6" cy="205.6" r="2.7"/>
<circle cx="300.5" cy="211.7" r="2.7"/>
<circle cx="307.3" cy="210.9" r="2.7"/>
<circle cx="311.1" cy="210.5" r="2.7"/>
<circle cx="315.7" cy="210.2" r="2.7"/>
<circle cx="330.1" cy="210.5" r="2.7"/>
<circle cx="441.6" cy="181.5" r="2.7"/>
<circle cx="454.3" cy="181.1" r="2.7"/>
<circle cx="458.1" cy="182.1" r="2.7"/>
<circle cx="445.2" cy="187.8" r="2.7"/>
<circle cx="450.9" cy="187.4" r="2.7"/>
<circle cx="456.9" cy="185.9" r="2.7"/>
<circle cx="464.2" cy="185.5" r="2.7"/>
<circle cx="471.7" cy="185.5" r="2.7"/>
<circle cx="467.9" cy="189.3" r="2.7"/>
<circle cx="438.3" cy="191.9" r="2.7"/>
<circle cx="443.7" cy="194.2" r="2.7"/>
<circle cx="450.5" cy="192.7" r="2.7"/>
<circle cx="454.3" cy="194.2" r="2.7"/>
<circle cx="457.3" cy="190.8" r="2.7"/>
<circle cx="462.3" cy="191.6" r="2.7"/>
<circle cx="459.6" cy="193.4" r="2.7"/>
<circle cx="469.8" cy="192.3" r="2.7"/>
<circle cx="467.2" cy="197.3" r="2.7"/>
<circle cx="439.9" cy="196.5" r="2.7"/>
<circle cx="447.1" cy="197.3" r="2.7"/>
<circle cx="435.7" cy="199.5" r="2.7"/>
<circle cx="456.2" cy="200.3" r="2.7"/>
<circle cx="460.4" cy="201.8" r="2.7"/>
<circle cx="445.9" cy="202.6" r="2.7"/>
<circle cx="448.6" cy="204.8" r="2.7"/>
<circle cx="439.1" cy="205.2" r="2.7"/>
<circle cx="442.9" cy="207.1" r="2.7"/>
<circle cx="454.7" cy="207.5" r="2.7"/>
<circle cx="464.9" cy="206.7" r="2.7"/>
<circle cx="471.0" cy="204.1" r="2.7"/>
<circle cx="469.8" cy="206.7" r="2.7"/>
<circle cx="445.2" cy="211.3" r="2.7"/>
<circle cx="460.0" cy="211.3" r="2.7"/>
<circle cx="473.3" cy="209.0" r="2.7"/>
<circle cx="476.7" cy="208.6" r="2.7"/>
<circle cx="481.6" cy="209.0" r="2.7"/>
<circle cx="479.0" cy="191.2" r="2.7"/>
<circle cx="480.1" cy="194.6" r="2.7"/>
<circle cx="485.8" cy="185.5" r="2.7"/>
<circle cx="486.2" cy="196.1" r="2.7"/>
<circle cx="486.2" cy="204.8" r="2.7"/>
<circle cx="436.8" cy="154.7" r="2.7"/>
<circle cx="454.3" cy="154.0" r="2.7"/>
<circle cx="460.4" cy="152.4" r="2.7"/>
<circle cx="442.9" cy="157.0" r="2.7"/>
<circle cx="449.7" cy="157.8" r="2.7"/>
<circle cx="438.3" cy="158.9" r="2.7"/>
<circle cx="436.1" cy="161.9" r="2.7"/>
<circle cx="440.6" cy="163.4" r="2.7"/>
<circle cx="445.6" cy="161.2" r="2.7"/>
<circle cx="449.7" cy="163.4" r="2.7"/>
<circle cx="454.7" cy="162.3" r="2.7"/>
<circle cx="459.2" cy="163.8" r="2.7"/>
<circle cx="464.2" cy="163.8" r="2.7"/>
<circle cx="438.3" cy="167.3" r="2.7"/>
<circle cx="446.3" cy="166.1" r="2.7"/>
<circle cx="454.7" cy="167.3" r="2.7"/>
<circle cx="446.7" cy="171.0" r="2.7"/>
<circle cx="460.7" cy="171.0" r="2.7"/>
<circle cx="440.6" cy="173.3" r="2.7"/>
<circle cx="445.2" cy="173.7" r="2.7"/>
<circle cx="455.8" cy="173.3" r="2.7"/>
<circle cx="436.8" cy="177.1" r="2.7"/>
<circle cx="451.2" cy="177.9" r="2.7"/>
<circle cx="458.1" cy="177.9" r="2.7"/>
<circle cx="475.2" cy="158.5" r="2.7"/>
<circle cx="475.5" cy="168.0" r="2.7"/>
<circle cx="471.7" cy="175.6" r="2.7"/>
<circle cx="482.4" cy="174.1" r="2.7"/>
<circle cx="485.8" cy="175.6" r="2.7"/>
<circle cx="409.3" cy="136.1" r="2.7"/>
<circle cx="425.3" cy="135.7" r="2.7"/>
<circle cx="416.2" cy="150.8" r="2.7"/>
</g>
<text transform="translate(10.3,171.6) rotate(-90)" text-anchor="middle" font-family="'Liberation Sans', Arial, sans-serif" font-weight="bold" font-size="11.8" fill="#222">Incremental Cost</text>
<text x="376.9" y="363.1" text-anchor="middle" font-family="'Liberation Sans', Arial, sans-serif" font-weight="bold" font-size="11.8" fill="#222">Incremental QALY</text>
<g stroke="#dadada" stroke-width="1">
<line x1="56.00" y1="509.9" x2="56.00" y2="702.0"/>
<line x1="75.15" y1="503.8" x2="75.15" y2="702.0"/>
<line x1="94.30" y1="498.0" x2="94.30" y2="702.0"/>
<line x1="113.45" y1="492.8" x2="113.45" y2="702.0"/>
<line x1="132.60" y1="488.1" x2="132.60" y2="702.0"/>
<line x1="151.75" y1="484.6" x2="151.75" y2="702.0"/>
<line x1="170.90" y1="480.0" x2="170.90" y2="702.0"/>
<line x1="190.05" y1="473.3" x2="190.05" y2="702.0"/>
<line x1="209.20" y1="469.5" x2="209.20" y2="702.0"/>
<line x1="228.35" y1="465.7" x2="228.35" y2="702.0"/>
<line x1="247.50" y1="460.5" x2="247.50" y2="702.0"/>
<line x1="266.65" y1="458.7" x2="266.65" y2="702.0"/>
<line x1="285.80" y1="455.8" x2="285.80" y2="702.0"/>
<line x1="304.95" y1="452.6" x2="304.95" y2="702.0"/>
<line x1="324.10" y1="448.5" x2="324.10" y2="702.0"/>
<line x1="343.25" y1="444.2" x2="343.25" y2="702.0"/>
<line x1="362.40" y1="441.8" x2="362.40" y2="702.0"/>
<line x1="381.55" y1="439.2" x2="381.55" y2="702.0"/>
<line x1="400.70" y1="436.0" x2="400.70" y2="702.0"/>
<line x1="419.85" y1="434.9" x2="419.85" y2="702.0"/>
<line x1="439.00" y1="433.7" x2="439.00" y2="702.0"/>
<line x1="458.15" y1="432.8" x2="458.15" y2="702.0"/>
<line x1="477.30" y1="431.4" x2="477.30" y2="702.0"/>
<line x1="496.45" y1="430.5" x2="496.45" y2="702.0"/>
<line x1="515.60" y1="429.0" x2="515.60" y2="702.0"/>
<line x1="534.75" y1="427.3" x2="534.75" y2="702.0"/>
<line x1="553.90" y1="426.1" x2="553.90" y2="702.0"/>
<line x1="573.05" y1="425.0" x2="573.05" y2="702.0"/>
<line x1="592.20" y1="423.5" x2="592.20" y2="702.0"/>
<line x1="611.35" y1="421.8" x2="611.35" y2="702.0"/>
<line x1="630.50" y1="422.1" x2="630.50" y2="702.0"/>
<line x1="649.65" y1="421.5" x2="649.65" y2="702.0"/>
<line x1="668.80" y1="420.6" x2="668.80" y2="702.0"/>
</g>
<text transform="translate(39,704.83) scale(1,1.12)" text-anchor="end" font-family="'Liberation Sans', Arial, sans-serif" font-size="8.8" fill="#3a3a3a">0.00</text>
<text transform="translate(39,675.71) scale(1,1.12)" text-anchor="end" font-family="'Liberation Sans', Arial, sans-serif" font-size="8.8" fill="#3a3a3a">0.10</text>
<text transform="translate(39,646.59) scale(1,1.12)" text-anchor="end" font-family="'Liberation Sans', Arial, sans-serif" font-size="8.8" fill="#3a3a3a">0.20</text>
<text transform="translate(39,617.47) scale(1,1.12)" text-anchor="end" font-family="'Liberation Sans', Arial, sans-serif" font-size="8.8" fill="#3a3a3a">0.30</text>
<text transform="translate(39,588.35) scale(1,1.12)" text-anchor="end" font-family="'Liberation Sans', Arial, sans-serif" font-size="8.8" fill="#3a3a3a">0.40</text>
<text transform="translate(39,559.23) scale(1,1.12)" text-anchor="end" font-family="'Liberation Sans', Arial, sans-serif" font-size="8.8" fill="#3a3a3a">0.50</text>
<text transform="translate(39,530.11) scale(1,1.12)" text-anchor="end" font-family="'Liberation Sans', Arial, sans-serif" font-size="8.8" fill="#3a3a3a">0.60</text>
<text transform="translate(39,500.99) scale(1,1.12)" text-anchor="end" font-family="'Liberation Sans', Arial, sans-serif" font-size="8.8" fill="#3a3a3a">0.70</text>
<text transform="translate(39,471.87) scale(1,1.12)" text-anchor="end" font-family="'Liberation Sans', Arial, sans-serif" font-size="8.8" fill="#3a3a3a">0.80</text>
<text transform="translate(39,442.75) scale(1,1.12)" text-anchor="end" font-family="'Liberation Sans', Arial, sans-serif" font-size="8.8" fill="#3a3a3a">0.90</text>
<text transform="translate(39,413.63) scale(1,1.12)" text-anchor="end" font-family="'Liberation Sans', Arial, sans-serif" font-size="8.8" fill="#3a3a3a">1.00</text>
<line x1="47" y1="702.0" x2="678" y2="702.0" stroke="#666" stroke-width="2"/>
<text transform="translate(58.30,713.2) rotate(-45)" text-anchor="end" font-family="'Liberation Sans', Arial, sans-serif" font-size="7.9" fill="#383838">5,000,000</text>
<text transform="translate(77.45,713.2) rotate(-45)" text-anchor="end" font-family="'Liberation Sans', Arial, sans-serif" font-size="7.9" fill="#383838">10,000,000</text>
<text transform="translate(96.60,713.2) rotate(-45)" text-anchor="end" font-family="'Liberation Sans', Arial, sans-serif" font-size="7.9" fill="#383838">15,000,000</text>
<text transform="translate(115.75,713.2) rotate(-45)" text-anchor="end" font-family="'Liberation Sans', Arial, sans-serif" font-size="7.9" fill="#383838">20,000,000</text>
<text transform="translate(134.90,713.2) rotate(-45)" text-anchor="end" font-family="'Liberation Sans', Arial, sans-serif" font-size="7.9" fill="#383838">25,000,000</text>
<text transform="translate(154.05,713.2) rotate(-45)" text-anchor="end" font-family="'Liberation Sans', Arial, sans-serif" font-size="7.9" fill="#383838">30,000,000</text>
<text transform="translate(173.20,713.2) rotate(-45)" text-anchor="end" font-family="'Liberation Sans', Arial, sans-serif" font-size="7.9" fill="#383838">35,000,000</text>
<text transform="translate(192.35,713.2) rotate(-45)" text-anchor="end" font-family="'Liberation Sans', Arial, sans-serif" font-size="7.9" fill="#383838">40,000,000</text>
<text transform="translate(211.50,713.2) rotate(-45)" text-anchor="end" font-family="'Liberation Sans', Arial, sans-serif" font-size="7.9" fill="#383838">45,000,000</text>
<text transform="translate(230.65,713.2) rotate(-45)" text-anchor="end" font-family="'Liberation Sans', Arial, sans-serif" font-size="7.9" fill="#383838">50,000,000</text>
<text transform="translate(249.80,713.2) rotate(-45)" text-anchor="end" font-family="'Liberation Sans', Arial, sans-serif" font-size="7.9" fill="#383838">55,000,000</text>
<text transform="translate(268.95,713.2) rotate(-45)" text-anchor="end" font-family="'Liberation Sans', Arial, sans-serif" font-size="7.9" fill="#383838">60,000,000</text>
<text transform="translate(288.10,713.2) rotate(-45)" text-anchor="end" font-family="'Liberation Sans', Arial, sans-serif" font-size="7.9" fill="#383838">65,000,000</text>
<text transform="translate(307.25,713.2) rotate(-45)" text-anchor="end" font-family="'Liberation Sans', Arial, sans-serif" font-size="7.9" fill="#383838">70,000,000</text>
<text transform="translate(326.40,713.2) rotate(-45)" text-anchor="end" font-family="'Liberation Sans', Arial, sans-serif" font-size="7.9" fill="#383838">75,000,000</text>
<text transform="translate(345.55,713.2) rotate(-45)" text-anchor="end" font-family="'Liberation Sans', Arial, sans-serif" font-size="7.9" fill="#383838">80,000,000</text>
<text transform="translate(364.70,713.2) rotate(-45)" text-anchor="end" font-family="'Liberation Sans', Arial, sans-serif" font-size="7.9" fill="#383838">85,000,000</text>
<text transform="translate(383.85,713.2) rotate(-45)" text-anchor="end" font-family="'Liberation Sans', Arial, sans-serif" font-size="7.9" fill="#383838">90,000,000</text>
<text transform="translate(403.00,713.2) rotate(-45)" text-anchor="end" font-family="'Liberation Sans', Arial, sans-serif" font-size="7.9" fill="#383838">95,000,000</text>
<text transform="translate(422.15,713.2) rotate(-45)" text-anchor="end" font-family="'Liberation Sans', Arial, sans-serif" font-size="7.9" fill="#383838">100,000,000</text>
<text transform="translate(441.30,713.2) rotate(-45)" text-anchor="end" font-family="'Liberation Sans', Arial, sans-serif" font-size="7.9" fill="#383838">105,000,000</text>
<text transform="translate(460.45,713.2) rotate(-45)" text-anchor="end" font-family="'Liberation Sans', Arial, sans-serif" font-size="7.9" fill="#383838">110,000,000</text>
<text transform="translate(479.60,713.2) rotate(-45)" text-anchor="end" font-family="'Liberation Sans', Arial, sans-serif" font-size="7.9" fill="#383838">115,000,000</text>
<text transform="translate(498.75,713.2) rotate(-45)" text-anchor="end" font-family="'Liberation Sans', Arial, sans-serif" font-size="7.9" fill="#383838">120,000,000</text>
<text transform="translate(517.90,713.2) rotate(-45)" text-anchor="end" font-family="'Liberation Sans', Arial, sans-serif" font-size="7.9" fill="#383838">125,000,000</text>
<text transform="translate(537.05,713.2) rotate(-45)" text-anchor="end" font-family="'Liberation Sans', Arial, sans-serif" font-size="7.9" fill="#383838">130,000,000</text>
<text transform="translate(556.20,713.2) rotate(-45)" text-anchor="end" font-family="'Liberation Sans', Arial, sans-serif" font-size="7.9" fill="#383838">135,000,000</text>
<text transform="translate(575.35,713.2) rotate(-45)" text-anchor="end" font-family="'Liberation Sans', Arial, sans-serif" font-size="7.9" fill="#383838">140,000,000</text>
<text transform="translate(594.50,713.2) rotate(-45)" text-anchor="end" font-family="'Liberation Sans', Arial, sans-serif" font-size="7.9" fill="#383838">145,000,000</text>
<text transform="translate(613.65,713.2) rotate(-45)" text-anchor="end" font-family="'Liberation Sans', Arial, sans-serif" font-size="7.9" fill="#383838">150,000,000</text>
<text transform="translate(632.80,713.2) rotate(-45)" text-anchor="end" font-family="'Liberation Sans', Arial, sans-serif" font-size="7.9" fill="#383838">155,000,000</text>
<text transform="translate(651.95,713.2) rotate(-45)" text-anchor="end" font-family="'Liberation Sans', Arial, sans-serif" font-size="7.9" fill="#383838">160,000,000</text>
<text transform="translate(671.10,713.2) rotate(-45)" text-anchor="end" font-family="'Liberation Sans', Arial, sans-serif" font-size="7.9" fill="#383838">165,000,000</text>
<path d="M56.00,509.94 C59.19,508.92 68.77,505.82 75.15,503.83 C81.53,501.84 87.92,499.85 94.30,498.01 C100.68,496.17 107.07,494.42 113.45,492.77 C119.83,491.12 126.22,489.47 132.60,488.12 C138.98,486.76 145.37,485.98 151.75,484.62 C158.13,483.26 164.52,481.86 170.90,479.97 C177.28,478.08 183.67,475.02 190.05,473.27 C196.43,471.53 202.82,470.75 209.20,469.49 C215.58,468.23 221.97,467.21 228.35,465.71 C234.73,464.20 241.12,461.63 247.50,460.47 C253.88,459.31 260.27,459.50 266.65,458.72 C273.03,457.95 279.42,456.83 285.80,455.81 C292.18,454.80 298.57,453.83 304.95,452.61 C311.33,451.40 317.72,449.95 324.10,448.54 C330.48,447.13 336.87,445.29 343.25,444.17 C349.63,443.06 356.02,442.67 362.40,441.85 C368.78,441.02 375.17,440.20 381.55,439.23 C387.93,438.26 394.32,436.75 400.70,436.03 C407.08,435.30 413.47,435.25 419.85,434.86 C426.23,434.47 432.62,434.04 439.00,433.70 C445.38,433.36 451.77,433.21 458.15,432.82 C464.53,432.44 470.92,431.76 477.30,431.37 C483.68,430.98 490.07,430.88 496.45,430.50 C502.83,430.11 509.22,429.58 515.60,429.04 C521.98,428.51 528.37,427.78 534.75,427.30 C541.13,426.81 547.52,426.52 553.90,426.13 C560.28,425.74 566.67,425.40 573.05,424.97 C579.43,424.53 585.82,424.05 592.20,423.51 C598.58,422.98 604.97,422.01 611.35,421.77 C617.73,421.52 624.12,422.11 630.50,422.06 C636.88,422.01 643.27,421.72 649.65,421.48 C656.03,421.23 665.61,420.75 668.80,420.60" fill="none" stroke="#c62fd0" stroke-width="2.2" stroke-linejoin="round" stroke-linecap="round"/>
<text xml:space="preserve" transform="translate(16.3,556.7) rotate(-90)" text-anchor="middle" font-family="'Liberation Sans', Arial, sans-serif" font-weight="bold" font-size="7.85" fill="#222">PROBABILITY  TO BE COST-EFFECTIVE</text>
<text x="362.6" y="756.3" text-anchor="middle" font-family="'Liberation Sans', Arial, sans-serif" font-weight="bold" font-size="7.9" fill="#222">THRESHOLDS (IN IDR)</text>
</g>
</svg></body></html>
